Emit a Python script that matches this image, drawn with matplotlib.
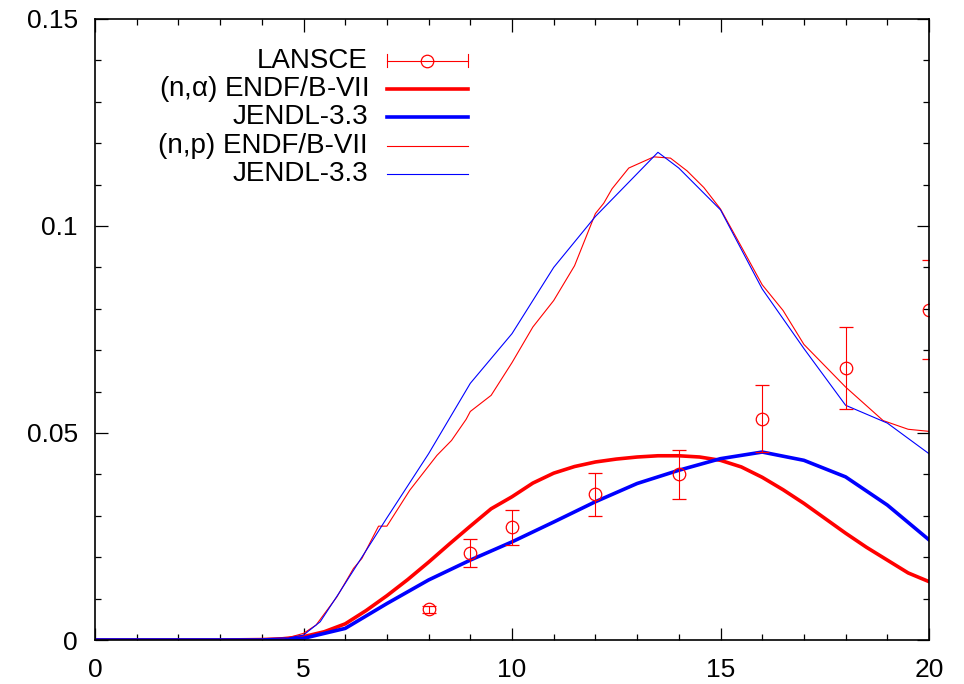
"""
(n,alpha) and (n,p) cross sections: LANSCE data vs evaluated libraries
"""

import numpy as np
import matplotlib
matplotlib.use('Agg')
import matplotlib.pyplot as plt

plt.rcParams['font.family'] = ['Liberation Sans', 'DejaVu Sans']
plt.rcParams['font.size'] = 20

## LANSCE measurement
lansce_x = [8, 9, 10, 12, 14, 16, 18, 20]
lansce_y = [0.0074, 0.0210, 0.0272, 0.0352, 0.0400, 0.0535, 0.0658, 0.0798]
lansce_err = [0.0008, 0.0033, 0.0042, 0.0052, 0.0060, 0.0080, 0.0099, 0.0119]

## (n,alpha) ENDF/B-VII
na_endf_x = [0, 1, 2, 3, 4, 4.5, 5, 5.5, 6, 6.5, 7, 7.5, 8, 8.5, 9, 9.5, 10,
             10.5, 11, 11.5, 12, 12.5, 13, 13.5, 14, 14.5, 15, 15.5, 16,
             16.5, 17, 17.5, 18, 18.5, 19, 19.5, 20]
na_endf_y = [0, 0, 0, 0, 0.0001, 0.0003, 0.0008, 0.0020, 0.0039, 0.0071,
             0.0107, 0.0146, 0.0188, 0.0232, 0.0275, 0.0317, 0.0346, 0.0379,
             0.0403, 0.0419, 0.0430, 0.0437, 0.0442, 0.0445, 0.0445, 0.0442,
             0.0434, 0.0418, 0.0393, 0.0363, 0.0330, 0.0294, 0.0258, 0.0224,
             0.0193, 0.0162, 0.0141]

## (n,alpha) JENDL-3.3
na_jendl_x = [0, 1, 2, 3, 4, 5, 6, 7, 8, 9, 10, 11, 12, 13, 14, 15, 16, 17,
              18, 19, 20]
na_jendl_y = [0, 0, 0, 0, 0, 0.0004, 0.0028, 0.0088, 0.0145, 0.0193, 0.0237,
              0.0285, 0.0334, 0.0378, 0.0410, 0.0438, 0.0454, 0.0434, 0.0394,
              0.0326, 0.0242]

## (n,p) ENDF/B-VII
np_endf_x = [0, 1, 2, 3, 4, 4.5, 5, 5.3, 5.8, 6.2, 6.4, 6.8, 7.0, 7.55, 8.2,
             8.55, 8.9, 9.0, 9.5, 10.0, 10.5, 11.0, 11.5, 12.0, 12.2, 12.4,
             12.8, 13.4, 13.8, 14.2, 14.6, 15.0, 15.5, 16.0, 16.5, 17.0, 18.0,
             18.9, 19.5, 20]
np_endf_y = [0, 0, 0, 0, 0, 0.0002, 0.0016, 0.0036, 0.0104, 0.0173, 0.0197,
             0.0275, 0.0275, 0.0362, 0.0446, 0.0482, 0.0533, 0.0552, 0.0591,
             0.0670, 0.0756, 0.0820, 0.0904, 0.1030, 0.1055, 0.1090, 0.1140,
             0.1167, 0.1164, 0.1133, 0.1093, 0.1041, 0.0950, 0.0858, 0.0796,
             0.0714, 0.0611, 0.0530, 0.0509, 0.0504]

## (n,p) JENDL-3.3
np_jendl_x = [0, 1, 2, 3, 4, 4.5, 5, 5.4, 5.85, 7, 8, 9, 10, 11, 12, 13.5,
              14, 15, 16, 17, 18, 19, 20]
np_jendl_y = [0, 0, 0, 0, 0, 0.0002, 0.0012, 0.0044, 0.0113, 0.0295, 0.0450,
              0.0620, 0.0740, 0.0900, 0.1023, 0.1178, 0.1140, 0.1039, 0.0848,
              0.0704, 0.0567, 0.0524, 0.0450]

legend_labels = ['LANSCE', r'(n,$\mathregular{\alpha}$) ENDF/B-VII',
                 'JENDL-3.3', '(n,p) ENDF/B-VII', 'JENDL-3.3']

fig = plt.figure(figsize=(9.64, 6.84), dpi=100)
ax = fig.add_axes([95 / 964, 44 / 684, 834 / 964, 621 / 684])

ax.plot(na_endf_x, na_endf_y, color='#ff0000', lw=2.6)
ax.plot(na_jendl_x, na_jendl_y, color='#0000ff', lw=2.6)
ax.plot(np_endf_x, np_endf_y, color='#ff0000', lw=0.8)
ax.plot(np_jendl_x, np_jendl_y, color='#0000ff', lw=0.8)
ax.errorbar(lansce_x, lansce_y, yerr=lansce_err, fmt='o', color='#ff0000',
            mfc='none', ms=9, mew=0.9, elinewidth=0.8, capsize=5,
            capthick=0.8)

ax.set_xlim(0, 20)
ax.set_ylim(0, 0.15)
ax.set_xticks([0, 5, 10, 15, 20])
ax.set_xticks(np.arange(0, 21, 1), minor=True)
ax.set_yticks([0, 0.05, 0.1, 0.15])
ax.set_yticklabels(['0', '0.05', '0.1', '0.15'])
ax.set_yticks(np.arange(0, 0.151, 0.01), minor=True)
ax.tick_params(which='both', direction='in', top=True, right=True,
               width=0.9, labelsize=19)
ax.tick_params(axis='y', pad=12.5)
ax.tick_params(axis='x', pad=13)
ax.tick_params(which='major', length=9)
ax.tick_params(which='minor', length=4.5)
for sp in ax.spines.values():
    sp.set_linewidth(1.2)

## key, drawn by hand the way gnuplot lays it out
key_rows = [0.933, 0.887, 0.842, 0.796, 0.751]
key_colors = ['#ff0000', '#ff0000', '#0000ff', '#ff0000', '#0000ff']
key_widths = [0.8, 2.6, 2.6, 0.8, 0.8]
tx, l0, l1 = 0.327, 0.350, 0.447
for lab, yy, c, w in zip(legend_labels, key_rows, key_colors, key_widths):
    ax.text(tx, yy, lab, transform=ax.transAxes, ha='right', va='center',
            fontsize=20)
    ax.plot([l0, l1], [yy, yy], color=c, lw=w, transform=ax.transAxes,
            clip_on=False)
cap = 0.011
y0 = key_rows[0]
for xx in (l0, l1):
    ax.plot([xx, xx], [y0 - cap, y0 + cap], color='#ff0000', lw=0.8,
            transform=ax.transAxes)
ax.plot([(l0 + l1) / 2], [y0], 'o', color='#ff0000', mfc='none', ms=9,
        mew=0.9, transform=ax.transAxes)

fig.savefig('out.png', dpi=100)
